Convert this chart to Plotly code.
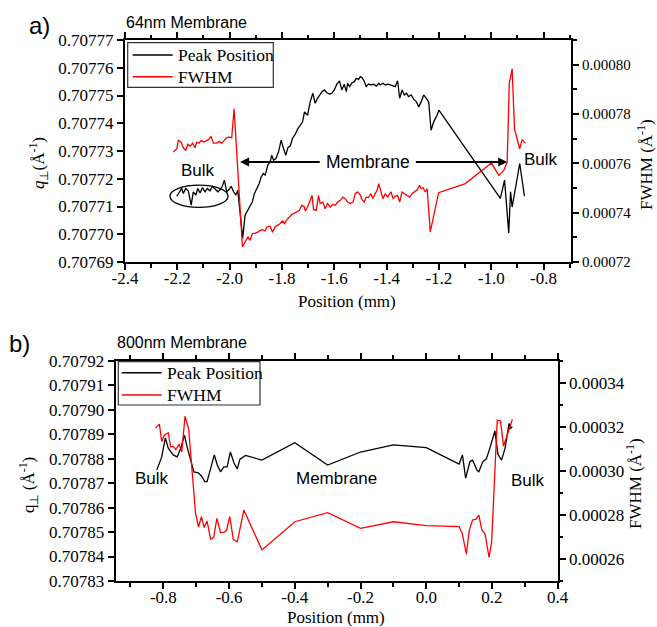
import plotly.graph_objects as go

# ---------------- Panel a) 64nm membrane ----------------
pos_a_peak = [-2.202, -2.193, -2.183, -2.177, -2.168, -2.158, -2.147, -2.139, -2.129, -2.122,
              -2.113, -2.104, -2.094, -2.085, -2.075, -2.066, -2.056, -2.045, -2.036, -2.028,
              -2.020, -2.011, -2.002, -1.994, -1.985, -1.976, -1.969,
              -1.950, -1.941, -1.930, -1.922, -1.913, -1.905, -1.896, -1.887, -1.879, -1.871,
              -1.864, -1.854, -1.845, -1.839, -1.832, -1.823, -1.813, -1.803, -1.794, -1.785,
              -1.777, -1.768, -1.760, -1.749, -1.739, -1.730, -1.721, -1.714,
              -1.702, -1.692, -1.682, -1.673, -1.664, -1.647, -1.638, -1.628, -1.618, -1.609,
              -1.600, -1.590, -1.580, -1.571, -1.562, -1.554, -1.549, -1.541, -1.532, -1.523,
              -1.516, -1.507, -1.500, -1.494, -1.485, -1.478, -1.469, -1.460, -1.450, -1.439,
              -1.430, -1.424, -1.414, -1.405, -1.396, -1.386, -1.375, -1.367, -1.358, -1.350,
              -1.341, -1.332, -1.324, -1.316, -1.306, -1.296, -1.286, -1.277, -1.268, -1.258,
              -1.248, -1.239, -1.230, -1.220, -1.207, -1.200,
              -0.965, -0.949, -0.933, -0.926, -0.920, -0.891, -0.873]
peak_a = [0.7077137, 0.7077153, 0.7077165, 0.7077147, 0.7077165, 0.7077156, 0.7077105, 0.7077153, 0.7077141, 0.7077165,
          0.7077149, 0.7077168, 0.7077153, 0.7077165, 0.7077156, 0.7077173, 0.7077165, 0.7077153, 0.7077161, 0.7077173,
          0.7077195, 0.7077153, 0.7077161, 0.7077173, 0.7077153, 0.7077141, 0.7077159,
          0.7076986, 0.7077069, 0.7077087, 0.7077105, 0.7077117, 0.7077147, 0.7077165, 0.7077183, 0.7077207, 0.7077219,
          0.7077213, 0.7077249, 0.7077261, 0.7077285, 0.7077267, 0.7077273, 0.7077297, 0.7077339, 0.7077309, 0.7077285,
          0.7077313, 0.7077318, 0.7077345, 0.7077361, 0.7077381, 0.7077393, 0.7077405, 0.7077441,
          0.7077429, 0.7077477, 0.7077508, 0.7077472, 0.7077490, 0.7077514, 0.7077520, 0.7077510, 0.7077505, 0.7077508,
          0.7077520, 0.7077541, 0.7077553, 0.7077520, 0.7077541, 0.7077514, 0.7077544, 0.7077532, 0.7077546, 0.7077550,
          0.7077562, 0.7077558, 0.7077568, 0.7077565, 0.7077550, 0.7077532, 0.7077541, 0.7077538, 0.7077541, 0.7077534,
          0.7077544, 0.7077538, 0.7077544, 0.7077538, 0.7077541, 0.7077538, 0.7077534, 0.7077532, 0.7077553, 0.7077490,
          0.7077520, 0.7077502, 0.7077508, 0.7077496, 0.7077502, 0.7077486, 0.7077477, 0.7077459, 0.7077477, 0.7077502,
          0.7077490, 0.7077477, 0.7077375, 0.7077405, 0.7077429, 0.7077447,
          0.7077129, 0.7077195, 0.7077005, 0.7077153, 0.7077098, 0.7077255, 0.7077137]

pos_a_fwhm = [-2.215, -2.202, -2.196, -2.186, -2.177, -2.168, -2.160, -2.151, -2.142, -2.132,
              -2.126, -2.117, -2.109, -2.100, -2.091, -2.081, -2.071, -2.062, -2.049, -2.040,
              -2.030, -2.020, -2.011, -2.002, -1.992, -1.983,
              -1.951, -1.941, -1.930, -1.922, -1.913, -1.902, -1.892, -1.883, -1.874, -1.864,
              -1.858, -1.845, -1.836, -1.826, -1.816, -1.807, -1.798, -1.790, -1.781, -1.772,
              -1.762, -1.752, -1.743, -1.734, -1.724, -1.714,
              -1.711, -1.702, -1.692, -1.685, -1.679, -1.669, -1.660, -1.654, -1.643, -1.635,
              -1.626, -1.615, -1.605, -1.596, -1.587, -1.577, -1.567, -1.558, -1.549, -1.539,
              -1.528, -1.520, -1.511, -1.500, -1.494, -1.485, -1.478, -1.469, -1.460, -1.452,
              -1.443, -1.437, -1.430, -1.421, -1.414, -1.405, -1.396, -1.388, -1.383, -1.375,
              -1.367, -1.358, -1.350, -1.341, -1.332, -1.322, -1.312, -1.303, -1.294, -1.283,
              -1.274, -1.268, -1.260, -1.252, -1.245, -1.233, -1.201, -1.099, -0.999,
              -0.986, -0.971, -0.952, -0.939, -0.931, -0.920, -0.911, -0.891, -0.882, -0.869]
fwhm_a = [0.0007646, 0.0007659, 0.0007693, 0.0007686, 0.0007663, 0.0007652, 0.0007677, 0.0007669, 0.0007682, 0.0007663,
          0.0007686, 0.0007682, 0.0007693, 0.0007686, 0.0007690, 0.0007696, 0.0007709, 0.0007682, 0.0007682, 0.0007688,
          0.0007682, 0.0007696, 0.0007704, 0.0007706, 0.0007704, 0.0007821,
          0.0007261, 0.0007281, 0.0007301, 0.0007288, 0.0007315, 0.0007317, 0.0007321, 0.0007328, 0.0007331, 0.0007326,
          0.0007342, 0.0007345, 0.0007321, 0.0007342, 0.0007349, 0.0007356, 0.0007366, 0.0007356, 0.0007372, 0.0007382,
          0.0007393, 0.0007398, 0.0007403, 0.0007409, 0.0007430, 0.0007423,
          0.0007407, 0.0007423, 0.0007450, 0.0007470, 0.0007412, 0.0007409, 0.0007470, 0.0007437, 0.0007443, 0.0007416,
          0.0007437, 0.0007423, 0.0007434, 0.0007430, 0.0007443, 0.0007450, 0.0007463, 0.0007457, 0.0007443, 0.0007437,
          0.0007443, 0.0007477, 0.0007484, 0.0007470, 0.0007453, 0.0007443, 0.0007463, 0.0007461, 0.0007477, 0.0007457,
          0.0007479, 0.0007488, 0.0007518, 0.0007477, 0.0007457, 0.0007477, 0.0007463, 0.0007477, 0.0007484, 0.0007457,
          0.0007466, 0.0007470, 0.0007443, 0.0007484, 0.0007477, 0.0007470, 0.0007463, 0.0007477, 0.0007484, 0.0007493,
          0.0007511, 0.0007497, 0.0007501, 0.0007484, 0.0007497, 0.0007322, 0.0007481, 0.0007518, 0.0007601,
          0.0007578, 0.0007551, 0.0007571, 0.0007605, 0.0007923, 0.0007983, 0.0007740, 0.0007659, 0.0007696, 0.0007682]

# ---------------- Panel b) 800nm membrane ----------------
pos_b_peak = [-0.820, -0.805, -0.794, -0.785, -0.770, -0.758, -0.747, -0.736, -0.726, -0.717,
              -0.707, -0.694, -0.684, -0.674, -0.667, -0.656, -0.645, -0.636, -0.626, -0.616,
              -0.606, -0.596, -0.585, -0.575, -0.567, -0.550,
              -0.5, -0.4, -0.3, -0.2, -0.1, 0.0, 0.1,
              0.110, 0.120, 0.133, 0.141, 0.155, 0.160, 0.172, 0.183, 0.195, 0.209,
              0.218, 0.229, 0.240, 0.252, 0.257, 0.262]
peak_b = [0.7078753, 0.7078807, 0.7078884, 0.7078843, 0.7078815, 0.7078807, 0.7078842, 0.7078896, 0.7078839, 0.7078790,
          0.7078746, 0.7078742, 0.7078729, 0.7078706, 0.7078706, 0.7078760, 0.7078815, 0.7078774, 0.7078746, 0.7078766,
          0.7078766, 0.7078827, 0.7078782, 0.7078758, 0.7078798, 0.7078813,
          0.7078794, 0.7078865, 0.7078774, 0.7078827, 0.7078856, 0.7078845, 0.7078778,
          0.7078815, 0.7078720, 0.7078788, 0.7078794, 0.7078751, 0.7078746, 0.7078787, 0.7078799, 0.7078849, 0.7078913,
          0.7078819, 0.7078794, 0.7078843, 0.7078944, 0.7078924, 0.7078930]

pos_b_fwhm = [-0.824, -0.812, -0.805, -0.797, -0.785, -0.778, -0.770, -0.762, -0.752, -0.744,
              -0.734, -0.723, -0.702, -0.693, -0.684, -0.676, -0.667, -0.656, -0.647, -0.637,
              -0.626, -0.616, -0.608, -0.598, -0.587, -0.575, -0.555,
              -0.5, -0.4, -0.3, -0.2, -0.1, 0.0, 0.1,
              0.110, 0.122, 0.131, 0.141, 0.151, 0.160, 0.169, 0.179, 0.191, 0.199,
              0.216, 0.226, 0.235, 0.262]
fwhm_b = [0.0003194, 0.0003212, 0.0003133, 0.0003162, 0.0003173, 0.0003109, 0.0003111, 0.0003097, 0.0003121, 0.0003086,
          0.0003248, 0.0003191, 0.0002807, 0.0002745, 0.0002792, 0.0002743, 0.0002772, 0.0002690, 0.0002697, 0.0002784,
          0.0002720, 0.0002721, 0.0002729, 0.0002792, 0.0002688, 0.0002678, 0.0002822,
          0.0002641, 0.0002769, 0.0002810, 0.0002739, 0.0002769, 0.0002751, 0.0002747,
          0.0002713, 0.0002622, 0.0002731, 0.0002777, 0.0002780, 0.0002799, 0.0002733, 0.0002713, 0.0002607, 0.0002677,
          0.0003230, 0.0003227, 0.0003112, 0.0003233]

series_names = ["Peak Position", "FWHM"]
series_colors = ["black", "#ff0000"]

# tick labels
xa_ticks = [-2.4, -2.2, -2.0, -1.8, -1.6, -1.4, -1.2, -1.0, -0.8]
xa_text = ["-2.4", "-2.2", "-2.0", "-1.8", "-1.6", "-1.4", "-1.2", "-1.0", "-0.8"]
ya_ticks = [0.70769, 0.70770, 0.70771, 0.70772, 0.70773, 0.70774, 0.70775, 0.70776, 0.70777]
ya2_ticks = [0.00072, 0.00074, 0.00076, 0.00078, 0.00080]
xb_ticks = [-0.8, -0.6, -0.4, -0.2, 0.0, 0.2, 0.4]
xb_text = ["-0.8", "-0.6", "-0.4", "-0.2", "0.0", "0.2", "0.4"]
yb_ticks = [0.70783, 0.70784, 0.70785, 0.70786, 0.70787, 0.70788, 0.70789, 0.70790, 0.70791, 0.70792]
yb2_ticks = [0.00026, 0.00028, 0.00030, 0.00032, 0.00034]

SERIF = "Liberation Serif"
SANS = "Liberation Sans"
W, H = 657, 627

fig = go.Figure()
line_w = 1.3
fig.add_trace(go.Scatter(x=pos_a_peak, y=peak_a, mode="lines", name=series_names[0], showlegend=False,
                         line=dict(color=series_colors[0], width=line_w), xaxis="x", yaxis="y"))
fig.add_trace(go.Scatter(x=pos_a_fwhm, y=fwhm_a, mode="lines", name=series_names[1], showlegend=False,
                         line=dict(color=series_colors[1], width=line_w), xaxis="x", yaxis="y2"))
fig.add_trace(go.Scatter(x=pos_b_peak, y=peak_b, mode="lines", name=series_names[0], showlegend=False,
                         line=dict(color=series_colors[0], width=line_w), xaxis="x2", yaxis="y3"))
fig.add_trace(go.Scatter(x=pos_b_fwhm, y=fwhm_b, mode="lines", name=series_names[1], showlegend=False,
                         line=dict(color=series_colors[1], width=line_w), xaxis="x2", yaxis="y4"))


def ax_common(size=17):
    return dict(showline=True, linewidth=2, linecolor="black", ticks="outside", ticklen=6,
                tickwidth=1.5, tickcolor="black", showgrid=False, zeroline=False, automargin=False,
                tickfont=dict(family=SERIF, size=size, color="black"))


dom_a_x = [125 / W, 571 / W]
dom_a_y = [1 - 262 / H, 1 - 40 / H]
dom_b_x = [115.7 / W, 557.7 / W]
dom_b_y = [1 - 581 / H, 1 - 360.7 / H]

minor_x = dict(ticks="outside", ticklen=3.5, tickwidth=1.5, tickcolor="black", tickmode="linear", dtick=0.1)

fig.update_layout(
    template="none",
    width=W, height=H, margin=dict(l=0, r=0, t=0, b=0, autoexpand=False),
    paper_bgcolor="white", plot_bgcolor="white", showlegend=False,
    font=dict(family=SERIF, size=17, color="black"),
    xaxis=dict(**ax_common(), domain=dom_a_x, anchor="y", range=[-2.4, -0.695],
               tickmode="array", tickvals=xa_ticks, ticktext=xa_text, mirror="ticks",
               ticklabelstandoff=-6, minor=dict(minor_x, tick0=-2.4)),
    yaxis=dict(**ax_common(), domain=dom_a_y, anchor="x", range=[0.70769, 0.70777],
               tickmode="array", tickvals=ya_ticks, tickformat=".5f"),
    yaxis2=dict(**ax_common(15), overlaying="y", side="right", anchor="x", range=[0.00072, 0.00081],
                tickmode="array", tickvals=ya2_ticks, tickformat=".5f",
                minor=dict(ticks="outside", ticklen=3.5, tickwidth=1.5, tickcolor="black",
                           tickmode="linear", tick0=0.00071, dtick=0.00002)),
    xaxis2=dict(**ax_common(), domain=dom_b_x, anchor="y3", range=[-0.945, 0.4],
                tickmode="array", tickvals=xb_ticks, ticktext=xb_text, mirror="ticks",
                ticklabelstandoff=-6, minor=dict(minor_x, tick0=-0.9)),
    yaxis3=dict(**ax_common(), domain=dom_b_y, anchor="x2", range=[0.70783, 0.70792],
                tickmode="array", tickvals=yb_ticks, tickformat=".5f"),
    yaxis4=dict(**ax_common(), overlaying="y3", side="right", anchor="x2", range=[0.00025, 0.00035],
                tickmode="array", tickvals=yb2_ticks, tickformat=".5f",
                minor=dict(ticks="outside", ticklen=3.5, tickwidth=1.5, tickcolor="black",
                           tickmode="linear", tick0=0.00025, dtick=0.00002)),
)

ann = []
shapes = []


def px_x(x):
    return x / W


def px_y(y):
    return 1 - y / H


def paper_text(text, x, y, size, family, angle=0, xanchor="center"):
    ann.append(dict(text=text, x=px_x(x), y=px_y(y), xref="paper", yref="paper", showarrow=False,
                    xanchor=xanchor, yanchor="middle", textangle=angle,
                    font=dict(family=family, size=size, color="black")))


paper_text("a)", 27, 25, 24, SANS, xanchor="left")
paper_text("b)", 7, 343, 24, SANS, xanchor="left")
paper_text("64nm Membrane", 124, 22, 16, SANS, xanchor="left")
paper_text("800nm Membrane", 115, 342, 16, SANS, xanchor="left")
paper_text("Position (mm)", 347, 302, 17, SERIF)
paper_text("Position (mm)", 336, 617, 17, SERIF)
paper_text("<i>q</i><sub>⊥</sub>(Å<sup>-1</sup>)", 38, 163, 17, SERIF, angle=-90)
paper_text("FWHM (Å<sup>-1</sup>)", 645, 165, 17, SERIF, angle=-90)
paper_text("q<sub>⊥</sub> (Å<sup>-1</sup>)", 28, 485, 17, SERIF, angle=-90)
paper_text("FWHM (Å<sup>-1</sup>)", 634, 484, 17, SERIF, angle=-90)


# legend boxes drawn in pixel positions
def legend_box(x0, y0, x1, y1, line_x0, line_x1, rows):
    shapes.append(dict(type="rect", xref="paper", yref="paper", x0=px_x(x0), x1=px_x(x1),
                       y0=px_y(y1), y1=px_y(y0), fillcolor="white",
                       line=dict(color="#333333", width=1.2), layer="above"))
    for (ry, name, color) in rows:
        shapes.append(dict(type="line", xref="paper", yref="paper", x0=px_x(line_x0), x1=px_x(line_x1),
                           y0=px_y(ry), y1=px_y(ry), line=dict(color=color, width=1.5), layer="above"))
        ann.append(dict(text=name, x=px_x(line_x1 + 3), y=px_y(ry), xref="paper", yref="paper",
                        showarrow=False, xanchor="left", yanchor="middle",
                        font=dict(family=SERIF, size=17.5, color="black")))


legend_box(127.7, 42.7, 273.3, 87.3, 132.7, 172.7,
           [(55, series_names[0], series_colors[0]), (76.7, series_names[1], series_colors[1])])
legend_box(118.3, 361.7, 260, 405, 121.7, 161.7,
           [(372.7, series_names[0], series_colors[0]), (395, series_names[1], series_colors[1])])


def data_text(text, x, y, xref, yref, size=17):
    ann.append(dict(text=text, x=x, y=y, xref=xref, yref=yref, showarrow=False,
                    xanchor="center", yanchor="middle",
                    font=dict(family=SANS, size=size, color="black")))


data_text("Bulk", -2.121, 0.7077231, "x", "y")
data_text("Membrane", -1.472, 0.707726, "x", "y", size=17.5)
data_text("Bulk", -0.811, 0.707727, "x", "y")
data_text("Bulk", -0.836, 0.7078719, "x2", "y3")
data_text("Membrane", -0.274, 0.7078717, "x2", "y3")
data_text("Bulk", 0.310, 0.7078712, "x2", "y3")

for tip, tail in [(-1.960, -1.650), (-0.939, -1.294)]:
    ann.append(dict(text="", x=tip, y=0.707726, ax=tail, ay=0.707726, xref="x", yref="y",
                    axref="x", ayref="y", showarrow=True, arrowhead=2, arrowsize=0.9,
                    arrowwidth=2, arrowcolor="black", standoff=0, startstandoff=0))

shapes.append(dict(type="circle", xref="x", yref="y", x0=-2.228, x1=-2.006, y0=0.7077097, y1=0.7077177,
                   line=dict(color="black", width=1.3)))

fig.update_layout(annotations=ann, shapes=shapes)

fig.write_html("out.html", config={"displayModeBar": False},
               post_script="document.body.style.margin='0px';")
